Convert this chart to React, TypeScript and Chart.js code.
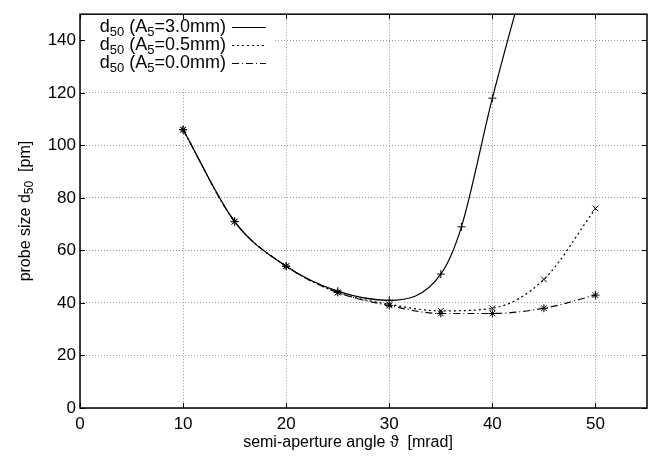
import React, { useEffect, useRef } from "react";
import { Chart, registerables } from "chart.js";
Chart.register(...registerables);

// ---- data ----
const xA = [10, 15, 20, 25, 30, 35, 37, 40, 45];
const yA = [106, 71, 54, 44.5, 41, 51, 69, 118, 190];
const xB = [10, 15, 20, 25, 30, 35, 40, 45, 50];
const yB = [106, 71, 54, 44, 39.5, 37, 38, 49, 76];
const xC = [10, 15, 20, 25, 30, 35, 40, 45, 50];
const yC = [106, 71, 54, 44, 39, 36, 36, 38, 43];
const xTicks = [0, 10, 20, 30, 40, 50];
const yTicks = [0, 20, 40, 60, 80, 100, 120, 140];
const legendLabels = ["3.0mm", "0.5mm", "0.0mm"];
const xTitle = "semi-aperture angle \u03D1  [mrad]";

const FONT = "'Liberation Sans', Arial, Helvetica, sans-serif";

type Seg = { t: string; sub?: boolean };

function segWidth(ctx: CanvasRenderingContext2D, segs: Seg[], size: number, subSize: number) {
  let w = 0;
  for (const s of segs) {
    ctx.font = `${s.sub ? subSize : size}px ${FONT}`;
    w += ctx.measureText(s.t).width;
  }
  return w;
}

function drawRich(ctx: CanvasRenderingContext2D, segs: Seg[], x: number, y: number, align: string, size = 16, subSize = 12, subOff = 4) {
  const w = segWidth(ctx, segs, size, subSize);
  let cx = align === "right" ? x - w : align === "center" ? x - w / 2 : x;
  ctx.textBaseline = "middle";
  ctx.textAlign = "left";
  ctx.fillStyle = "#000";
  for (const s of segs) {
    ctx.font = `${s.sub ? subSize : size}px ${FONT}`;
    ctx.fillText(s.t, cx, s.sub ? y + subOff : y);
    cx += ctx.measureText(s.t).width;
  }
}

const dashes = [[], [2, 3], [7, 3, 1, 3]];

const decorPlugin = {
  id: "decor",
  afterDraw(chart: any) {
    const ctx: CanvasRenderingContext2D = chart.ctx;
    const { left, right, top, bottom } = chart.chartArea;
    const xs = chart.scales.x;
    const ys = chart.scales.y;
    ctx.save();
    // legend box
    ctx.fillStyle = "#fff";
    ctx.fillRect(left + 1, top + 1, 194, 74);
    const rows = [27, 45, 63];
    legendLabels.forEach((lab, i) => {
      drawRich(ctx, [{ t: "d" }, { t: "50", sub: true }, { t: " (A" }, { t: "5", sub: true }, { t: "=" + lab + ")" }], 226, rows[i], "right", 18, 13, 5);
      ctx.strokeStyle = "#000";
      ctx.lineWidth = 1.2;
      ctx.setLineDash(dashes[i]);
      ctx.beginPath();
      ctx.moveTo(232, rows[i] + 0.5);
      ctx.lineTo(266, rows[i] + 0.5);
      ctx.stroke();
    });
    ctx.setLineDash([]);
    // ticks inward
    ctx.strokeStyle = "#000";
    ctx.lineWidth = 1;
    const tl = 5;
    ctx.beginPath();
    xTicks.forEach((v) => {
      const px = Math.round(xs.getPixelForValue(v)) + 0.5;
      ctx.moveTo(px, bottom);
      ctx.lineTo(px, bottom - tl);
      ctx.moveTo(px, top);
      ctx.lineTo(px, top + tl);
    });
    yTicks.forEach((v) => {
      const py = Math.round(ys.getPixelForValue(v)) + 0.5;
      ctx.moveTo(left, py);
      ctx.lineTo(left + tl, py);
      ctx.moveTo(right, py);
      ctx.lineTo(right - tl, py);
    });
    ctx.stroke();
    // frame
    ctx.lineWidth = 1.5;
    ctx.strokeRect(left, top, right - left, bottom - top);
    // x title
    ctx.fillStyle = "#000";
    ctx.font = `16px ${FONT}`;
    ctx.textAlign = "center";
    ctx.textBaseline = "middle";
    ctx.fillText(xTitle, 348, 443);
    // y title
    ctx.translate(26, (top + bottom) / 2);
    ctx.rotate(-Math.PI / 2);
    drawRich(ctx, [{ t: "probe size d" }, { t: "50", sub: true }, { t: "  [pm]" }], 0, 0, "center", 16, 12, 4);
    ctx.restore();
  },
};

export default function App() {
  const ref = useRef<HTMLCanvasElement | null>(null);
  useEffect(() => {
    document.body.style.margin = "0";
    const mk = (xs: number[], ys: number[]) => xs.map((x, i) => ({ x, y: ys[i] }));
    const base = {
      borderColor: "#000",
      borderWidth: 1.2,
      pointRadius: 4,
      pointBorderWidth: 1,
      pointBorderColor: "#000",
      pointBackgroundColor: "rgba(0,0,0,0)",
      cubicInterpolationMode: "monotone" as const,
      fill: false,
    };
    const chart = new Chart(ref.current!, {
      type: "line",
      data: {
        datasets: [
          { ...base, label: "A5=0.0mm", data: mk(xC, yC), borderDash: dashes[2], pointStyle: "star", order: 3 },
          { ...base, label: "A5=0.5mm", data: mk(xB, yB), borderDash: dashes[1], pointStyle: "crossRot", order: 2 },
          { ...base, label: "A5=3.0mm", data: mk(xA, yA), borderDash: [], pointStyle: "cross", order: 1 },
        ],
      },
      options: {
        responsive: false,
        animation: false,
        devicePixelRatio: 1,
        layout: { padding: { top: 5, right: 10, left: 0, bottom: 0 } },
        plugins: { legend: { display: false }, tooltip: { enabled: false } },
        scales: {
          x: {
            type: "linear",
            min: 0,
            max: 55,
            afterBuildTicks: (s: any) => {
              s.ticks = xTicks.map((v) => ({ value: v }));
            },
            afterFit: (s: any) => {
              s.height = 54;
            },
            grid: { color: "#999", drawTicks: false, lineWidth: 1 },
            border: { display: false, dash: [1, 2] },
            ticks: { font: { family: FONT, size: 17 }, color: "#000", padding: 6, maxRotation: 0 },
          },
          y: {
            type: "linear",
            min: 0,
            max: 150,
            afterBuildTicks: (s: any) => {
              s.ticks = yTicks.map((v) => ({ value: v }));
            },
            afterFit: (s: any) => {
              s.width = 80;
            },
            grid: { color: "#999", drawTicks: false, lineWidth: 1 },
            border: { display: false, dash: [1, 2] },
            ticks: { font: { family: FONT, size: 17 }, color: "#000", padding: 4 },
          },
        },
      },
      plugins: [decorPlugin],
    });
    return () => chart.destroy();
  }, []);
  return <canvas ref={ref} width={657} height={462} style={{ display: "block" }} />;
}
